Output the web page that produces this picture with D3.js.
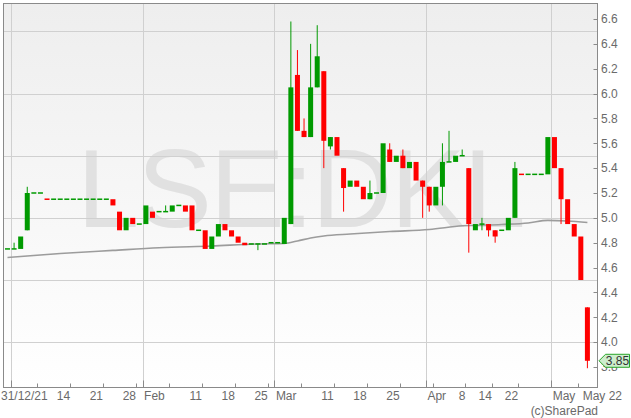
<!DOCTYPE html>
<html>
<head>
<meta charset="utf-8">
<script src="https://cdn.jsdelivr.net/npm/d3@7"></script>
<style>
  html, body { margin: 0; padding: 0; background: #fff; }
  svg { display: block; font-family: "Liberation Sans", Arial, sans-serif; }
</style>
</head>
<body>
<div id="chart"></div>
<script>
const WIDTH = 631;
const HEIGHT = 418;

// trading days: 31/12/21 to 10 May 22, UK market holidays skipped
const START = '2021-12-31';
const END = '2022-05-10';
const HOLIDAYS = ['2022-01-03', '2022-04-15', '2022-04-18', '2022-05-02'];

const OPEN = [
  4.75, 4.75, 4.75, 4.90, 5.20, 5.20, 5.15, 5.15, 5.15, 5.15,
  5.15, 5.15, 5.15, 5.15, 5.15, 5.15, 5.15, 5.05, 4.90, 5.00,
  4.95, 4.95, 5.05, 5.05, 5.05, 5.05, 5.10, 5.10, 5.10, 4.90,
  4.90, 4.75, 4.85, 4.95, 4.90, 4.85, 4.80, 4.79, 4.79, 4.79,
  4.80, 4.80, 4.79, 4.95, 6.15, 5.70, 5.65, 6.05, 6.18, 5.575,
  5.65, 5.40, 5.25, 5.30, 5.25, 5.15, 5.20, 5.20, 5.55, 5.45,
  5.50, 5.40, 5.45, 5.30, 5.25, 5.10, 5.25, 5.45, 5.45, 5.50,
  5.40, 4.90, 4.95, 4.95, 4.90, 4.90, 4.90, 5.00, 5.35, 5.35,
  5.35, 5.35, 5.35, 5.65, 5.40, 5.15, 4.95, 4.85, 4.28
];
const HIGH = [
  4.75, 4.80, 4.85, 5.25, 5.20, 5.20, 5.15, 5.15, 5.15, 5.15,
  5.15, 5.15, 5.15, 5.15, 5.15, 5.15, 5.15, 5.05, 5.00, 5.00,
  4.95, 5.10, 5.05, 5.05, 5.10, 5.10, 5.10, 5.10, 5.10, 4.90,
  4.90, 4.85, 4.95, 4.95, 4.90, 4.85, 4.80, 4.79, 4.79, 4.79,
  4.80, 4.80, 5.00, 6.58, 6.35, 5.80, 6.40, 6.55, 6.18, 5.65,
  5.65, 5.40, 5.30, 5.30, 5.25, 5.30, 5.20, 5.60, 5.60, 5.50,
  5.55, 5.45, 5.45, 5.30, 5.25, 5.25, 5.60, 5.70, 5.50, 5.55,
  5.40, 4.95, 5.00, 4.95, 4.90, 4.90, 5.00, 5.45, 5.35, 5.35,
  5.35, 5.35, 5.65, 5.65, 5.40, 5.15, 4.95, 4.85, 4.28
];
const LOW = [
  4.75, 4.75, 4.75, 4.90, 5.20, 5.20, 5.15, 5.15, 5.15, 5.15,
  5.15, 5.15, 5.15, 5.15, 5.15, 5.15, 5.10, 4.90, 4.90, 4.95,
  4.95, 4.95, 5.00, 5.05, 5.05, 5.05, 5.10, 5.05, 4.90, 4.90,
  4.75, 4.75, 4.85, 4.90, 4.85, 4.80, 4.78, 4.79, 4.74, 4.79,
  4.80, 4.80, 4.79, 4.95, 5.70, 5.65, 5.65, 6.05, 5.40, 5.55,
  5.50, 5.05, 5.25, 5.25, 5.15, 5.15, 5.20, 5.20, 5.45, 5.45,
  5.40, 5.40, 5.30, 5.00, 5.05, 5.10, 5.10, 5.45, 5.45, 5.50,
  4.72, 4.90, 4.90, 4.85, 4.80, 4.90, 4.90, 5.00, 5.35, 5.35,
  5.35, 5.35, 5.35, 5.40, 4.95, 4.95, 4.85, 4.50, 3.79
];
const CLOSE = [
  4.75, 4.75, 4.85, 5.20, 5.20, 5.20, 5.15, 5.15, 5.15, 5.15,
  5.15, 5.15, 5.15, 5.15, 5.15, 5.15, 5.10, 4.90, 5.00, 4.95,
  4.95, 5.10, 5.00, 5.05, 5.05, 5.10, 5.10, 5.05, 4.90, 4.90,
  4.75, 4.85, 4.95, 4.90, 4.85, 4.80, 4.78, 4.79, 4.79, 4.79,
  4.80, 4.80, 5.00, 6.05, 5.70, 5.65, 6.05, 6.30, 5.62, 5.65,
  5.50, 5.24, 5.30, 5.25, 5.15, 5.20, 5.20, 5.60, 5.45, 5.50,
  5.40, 5.45, 5.30, 5.25, 5.10, 5.25, 5.45, 5.45, 5.50, 5.50,
  4.95, 4.95, 4.95, 4.90, 4.85, 4.90, 5.00, 5.40, 5.35, 5.35,
  5.35, 5.35, 5.65, 5.40, 5.15, 4.95, 4.85, 4.50, 3.85
];

// moving average, read at a few candle positions
const MA_INDEX = [0, 8, 16, 23, 31, 38, 42, 44, 46, 48, 52, 58, 64, 69, 75, 79, 82, 85, 88];
const MA_VALUE = [4.681, 4.713, 4.738, 4.759, 4.774, 4.790, 4.794, 4.814, 4.838, 4.854,
                  4.870, 4.890, 4.906, 4.936, 4.947, 4.959, 4.980, 4.975, 4.963];

const Y_TICKS = d3.range(3.8, 6.61, 0.2);
const Y_GRID = [4.0, 4.5, 5.0, 5.5, 6.0, 6.5];
const WATERMARK = 'LSE:DKL';
const CREDIT = '(c)SharePad';

const GREEN = '#009a00';
const RED = '#ff0000';

const parse = d3.timeParse('%Y-%m-%d');
const fmt = d3.timeFormat('%Y-%m-%d');
const dates = d3.timeDay.range(parse(START), d3.timeDay.offset(parse(END), 1))
  .filter(d => d.getDay() !== 0 && d.getDay() !== 6 && !HOLIDAYS.includes(fmt(d)));

const candles = dates.map((d, i) => ({
  i, date: d, o: OPEN[i], h: HIGH[i], l: LOW[i], c: CLOSE[i]
}));

const plot = { left: 3.5, top: 3.5, right: 597.5, bottom: 387.5 };

const x = d3.scaleLinear().domain([-0.5, dates.length - 0.5]).range([4.2, 590.7]);
const y = d3.scaleLinear().domain([3.8, 6.6]).range([367, 19]);

const svg = d3.select('#chart').append('svg')
  .attr('width', WIDTH).attr('height', HEIGHT);

const defs = svg.append('defs');
const grad = defs.append('linearGradient').attr('id', 'bg')
  .attr('x1', 0).attr('y1', 0).attr('x2', 0).attr('y2', 1);
grad.append('stop').attr('offset', '0%').attr('stop-color', '#eeeeee');
grad.append('stop').attr('offset', '100%').attr('stop-color', '#ffffff');

svg.append('rect')
  .attr('x', plot.left).attr('y', plot.top)
  .attr('width', plot.right - plot.left).attr('height', plot.bottom - plot.top)
  .attr('fill', 'url(#bg)');

// watermark
svg.append('text')
  .attr('x', 77).attr('y', 226.5)
  .attr('font-size', 112)
  .attr('letter-spacing', -2)
  .attr('fill', '#e1e1e1')
  .text(WATERMARK);

// month / week boundaries
const monthTicks = [];
const weekTicks = [];
dates.forEach((d, i) => {
  if (i > 0 && d.getMonth() !== dates[i - 1].getMonth()) monthTicks.push({ pos: i - 0.5, date: d });
  if (i < dates.length - 1 && d3.timeDay.count(d, dates[i + 1]) >= 3) {
    const pos = i + 0.5;
    if (!(i + 1 < dates.length && dates[i + 1].getMonth() !== d.getMonth())) weekTicks.push({ pos, date: d });
  }
});

const grid = svg.append('g').attr('stroke', '#d0d0d0').attr('stroke-width', 1);
grid.selectAll('.hg').data(Y_GRID).join('line')
  .attr('x1', plot.left).attr('x2', plot.right)
  .attr('y1', d => Math.round(y(d)) + 0.5).attr('y2', d => Math.round(y(d)) + 0.5);
grid.selectAll('.vg').data(monthTicks).join('line')
  .attr('x1', d => Math.round(x(d.pos)) + 0.5).attr('x2', d => Math.round(x(d.pos)) + 0.5)
  .attr('y1', plot.top).attr('y2', plot.bottom);

// moving average
const maLine = d3.line()
  .x((d, k) => x(MA_INDEX[k]))
  .y(d => y(d))
  .curve(d3.curveMonotoneX);
svg.append('path')
  .attr('d', maLine(MA_VALUE))
  .attr('fill', 'none')
  .attr('stroke', '#9c9c9c')
  .attr('stroke-width', 1.6);

// candles
const colour = d => {
  if (d.c > d.o) return GREEN;
  if (d.c < d.o) return RED;
  return d.i > 0 && d.c < CLOSE[d.i - 1] ? RED : GREEN;
};
const BW = 5;
const cg = svg.append('g');
const cs = cg.selectAll('g').data(candles).join('g');
cs.filter(d => d.h > Math.max(d.o, d.c) || d.l < Math.min(d.o, d.c))
  .append('line')
  .attr('x1', d => x(d.i)).attr('x2', d => x(d.i))
  .attr('y1', d => y(d.h)).attr('y2', d => y(d.l))
  .attr('stroke', colour).attr('stroke-width', 1);
cs.append('rect')
  .attr('x', d => x(d.i) - BW / 2)
  .attr('width', BW)
  .attr('y', d => d.o === d.c ? y(d.c) - 0.75 : y(Math.max(d.o, d.c)))
  .attr('height', d => d.o === d.c ? 1.5 : Math.abs(y(d.o) - y(d.c)))
  .attr('fill', colour);

// frame
svg.append('rect')
  .attr('x', plot.left).attr('y', plot.top)
  .attr('width', plot.right - plot.left).attr('height', plot.bottom - plot.top)
  .attr('fill', 'none').attr('stroke', '#8a8a8a').attr('stroke-width', 1);

const axisColour = '#8a8a8a';
const labelColour = '#6a6a6a';

// x axis ticks
const xa = svg.append('g').attr('stroke', axisColour);
xa.selectAll('.mt').data(monthTicks).join('line')
  .attr('x1', d => Math.round(x(d.pos)) + 0.5).attr('x2', d => Math.round(x(d.pos)) + 0.5)
  .attr('y1', plot.bottom - 7).attr('y2', plot.bottom);
xa.selectAll('.wt').data(weekTicks).join('line')
  .attr('x1', d => Math.round(x(d.pos)) + 0.5).attr('x2', d => Math.round(x(d.pos)) + 0.5)
  .attr('y1', plot.bottom - 4).attr('y2', plot.bottom);

const xl = svg.append('g').attr('font-size', 12).attr('fill', labelColour);
const taken = [];
const first = xl.append('text').attr('x', 1).attr('y', 400)
  .text(d3.timeFormat('%d/%m/%y')(dates[0]));
taken.push([1, 1 + first.node().getComputedTextLength()]);
monthTicks.forEach(t => {
  if (t.pos < 1) return;
  const px = x(t.pos) + 1.5;
  const el = xl.append('text').attr('x', px).attr('y', 400).text(d3.timeFormat('%b')(t.date));
  taken.push([px, px + el.node().getComputedTextLength()]);
});
const lastLabel = xl.append('text').attr('x', 622).attr('y', 400).attr('text-anchor', 'end')
  .text(d3.timeFormat('%b %y')(dates[dates.length - 1]));
const lw = lastLabel.node().getComputedTextLength();
taken.push([622 - lw, 622]);
weekTicks.forEach(t => {
  const px = x(t.pos);
  const el = xl.append('text').attr('x', px).attr('y', 400).attr('text-anchor', 'end')
    .text(t.date.getDate());
  const w = el.node().getComputedTextLength();
  const a = px - w, b = px;
  if (taken.some(([s, e]) => a < e + 2 && b > s - 2)) el.remove();
});

xl.append('text').attr('x', 598).attr('y', 415).attr('text-anchor', 'end').text(CREDIT);

// y axis
const ya = svg.append('g');
ya.selectAll('line').data(Y_TICKS).join('line')
  .attr('x1', plot.right - 4).attr('x2', plot.right)
  .attr('y1', d => Math.round(y(d)) + 0.5).attr('y2', d => Math.round(y(d)) + 0.5)
  .attr('stroke', axisColour);
ya.selectAll('text').data(Y_TICKS).join('text')
  .attr('x', 601).attr('y', d => y(d) + 4.3)
  .attr('font-size', 12).attr('fill', labelColour)
  .text(d => d.toFixed(1));

// last price marker
const last = CLOSE[CLOSE.length - 1];
const ly = y(last);
svg.append('path')
  .attr('d', `M599,${ly} L605.5,${ly - 6.5} L629.5,${ly - 6.5} L629.5,${ly + 6.5} L605.5,${ly + 6.5} Z`)
  .attr('fill', '#cdeecd').attr('stroke', '#2aa52a').attr('stroke-width', 1);
svg.append('text')
  .attr('x', 617.5).attr('y', ly + 4.3).attr('text-anchor', 'middle')
  .attr('font-size', 12).attr('fill', '#333')
  .text(last.toFixed(2));
</script>
</body>
</html>
